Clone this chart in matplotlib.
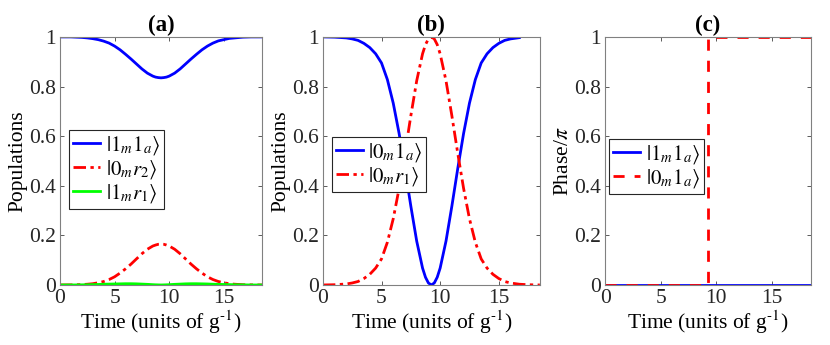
import numpy as np
import matplotlib
matplotlib.use("Agg")
import matplotlib.pyplot as plt
from matplotlib.ticker import FuncFormatter

plt.rcParams['font.family'] = ['Liberation Serif', 'DejaVu Serif']
plt.rcParams['mathtext.fontset'] = 'stix'

# time grid (units of 1/g) for the population panels
t_pop = [0, 1, 2, 2.5, 3, 3.5, 4, 4.5, 5, 5.5,
         6, 6.5, 7, 7.5, 8, 8.5, 8.75, 9, 9.25, 9.5,
         9.75, 10, 10.5, 11, 11.5, 12, 12.5, 13, 13.5, 14,
         14.5, 15, 15.5, 16, 16.75, 17.5, 18.5]

# (a) populations
a_1m1a = [1.0, 1.0, 0.998, 0.996, 0.993, 0.989, 0.983, 0.975, 0.963, 0.948,
          0.930, 0.911, 0.891, 0.871, 0.854, 0.842, 0.838, 0.836, 0.835, 0.836,
          0.838, 0.842, 0.854, 0.871, 0.891, 0.911, 0.930, 0.948, 0.963, 0.975,
          0.984, 0.989, 0.994, 0.996, 0.999, 1.0, 1.0]
a_0mr2 = [0.0, 0.0004, 0.0016, 0.003, 0.005, 0.009, 0.014, 0.022, 0.033, 0.048,
          0.065, 0.084, 0.105, 0.126, 0.144, 0.157, 0.161, 0.164, 0.165, 0.164,
          0.161, 0.157, 0.144, 0.126, 0.105, 0.084, 0.065, 0.048, 0.033, 0.022,
          0.014, 0.009, 0.005, 0.003, 0.001, 0.0004, 0.0]
a_1mr1 = [0.0, 0.0, 0.0005, 0.001, 0.0015, 0.002, 0.003, 0.0035, 0.004, 0.0045,
          0.005, 0.005, 0.0045, 0.0035, 0.0025, 0.0012, 0.0007, 0.0003, 0.0, 0.0003,
          0.0007, 0.0012, 0.0025, 0.0035, 0.0045, 0.005, 0.005, 0.0045, 0.004, 0.003,
          0.0025, 0.002, 0.0015, 0.001, 0.0005, 0.0, 0.0]

# (b) populations (|0m1a> curve stops at t = 16.75)
b_0mr1 = [0.0, 0.001, 0.004, 0.008, 0.014, 0.026, 0.043, 0.068, 0.105, 0.172,
          0.267, 0.389, 0.531, 0.682, 0.823, 0.932, 0.969, 0.992, 1.0, 0.992,
          0.969, 0.932, 0.823, 0.682, 0.531, 0.389, 0.267, 0.172, 0.105, 0.068,
          0.043, 0.026, 0.014, 0.008, 0.003, 0.001, 0.0]
b_0m1a = [1.0, 0.999, 0.996, 0.992, 0.986, 0.974, 0.957, 0.932, 0.895, 0.828,
          0.733, 0.611, 0.469, 0.318, 0.177, 0.068, 0.031, 0.008, 0.0, 0.008,
          0.031, 0.068, 0.177, 0.318, 0.469, 0.611, 0.733, 0.828, 0.895, 0.932,
          0.957, 0.974, 0.986, 0.992, 0.997]

# (c) phases / pi
t_phase = [0, 9.25, 9.25, 18.5]
c_1m1a = [0, 0, 0, 0]
c_0m1a = [0, 0, 1, 1]

blue = '#0000ff'
red = '#ff0000'
green = '#00ff00'
lw = 2.0
dashdot = (0, (4.5, 1.6, 1.2, 1.6))

fig = plt.figure(figsize=(8.3, 3.45), dpi=100)
axa = fig.add_axes([0.0723, 0.174, 0.2434, 0.719])
axb = fig.add_axes([0.389, 0.174, 0.2614, 0.719])
axc = fig.add_axes([0.729, 0.174, 0.248, 0.719])

axa.plot(t_pop, a_1m1a, color=blue, lw=lw, label=r'$|1_m1_a\rangle$')
axa.plot(t_pop, a_0mr2, color=red, lw=lw, ls=dashdot, label=r'$|0_mr_2\rangle$')
axa.plot(t_pop, a_1mr1, color=green, lw=lw, label=r'$|1_mr_1\rangle$')

axb.plot(t_pop[:len(b_0m1a)], b_0m1a, color=blue, lw=lw, label=r'$|0_m1_a\rangle$')
axb.plot(t_pop, b_0mr1, color=red, lw=lw, ls=dashdot, label=r'$|0_mr_1\rangle$')

axc.plot([t_phase[0], t_phase[-1]], [c_1m1a[0], c_1m1a[-1]], color=blue, lw=lw, label=r'$|1_m1_a\rangle$')
axc.plot(t_phase, c_0m1a, color=red, lw=lw, ls=(0, (4, 3.6)), label=r'$|0_m1_a\rangle$')

legend_pos = [(0.045, 0.306), (0.041, 0.375), (0.02, 0.367)]
titles = ['(a)', '(b)', '(c)']
ylabels = ['Populations', 'Populations', r'Phase/$\pi$']

for ax, title, ylab, pos in zip([axa, axb, axc], titles, ylabels, legend_pos):
    ax.set_xlim(0, 18.5)
    ax.set_ylim(0, 1)
    ax.set_xticks([0, 5, 10, 15])
    ax.set_yticks([0, 0.2, 0.4, 0.6, 0.8, 1])
    ax.yaxis.set_major_formatter(FuncFormatter(lambda v, p: '%g' % v))
    ax.tick_params(direction='in', length=3, width=0.6, labelsize=15.5,
                   top=True, right=True, color='#404040', labelcolor='#262626', pad=3)
    for sp in ax.spines.values():
        sp.set_color('#808080')
        sp.set_linewidth(0.8)
    ax.set_title(title, fontsize=16.5, fontweight='bold', pad=4)
    ax.set_xlabel(r'Time (units of g$^{\text{-1}}$)', fontsize=15.5, labelpad=0)
    ax.set_ylabel(ylab, fontsize=15.5, labelpad=1)
    leg = ax.legend(loc='lower left', bbox_to_anchor=pos, borderaxespad=0,
                    fontsize=15, fancybox=False, framealpha=1, edgecolor='#262626',
                    handlelength=1.3, handletextpad=0.25, labelspacing=0.05,
                    borderpad=0.2)
    leg.get_frame().set_linewidth(0.8)

fig.savefig('out.png', dpi=100)
